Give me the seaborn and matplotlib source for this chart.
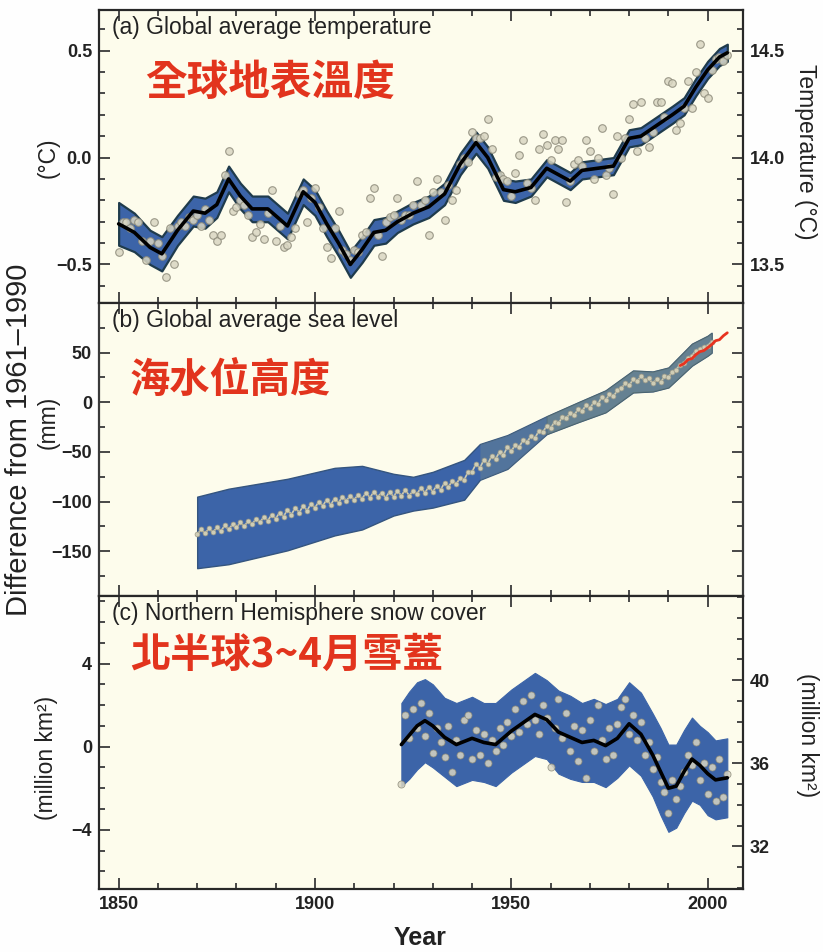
import numpy as np
import pandas as pd
import matplotlib
matplotlib.use("Agg")
import matplotlib.pyplot as plt
import seaborn as sns
from matplotlib.ticker import MultipleLocator, FuncFormatter

# ---- (a) global average temperature, anomaly vs 1961-1990 (deg C) ----
temp_years = list(range(1850, 2006))
temp_annual = [
    -0.44, -0.30, -0.30, -0.33, -0.29, -0.30, -0.39, -0.48, -0.39, -0.30,
    -0.40, -0.46, -0.56, -0.33, -0.50, -0.32, -0.30, -0.32, -0.28, -0.29,
    -0.27, -0.32, -0.24, -0.29, -0.36, -0.39, -0.36, -0.08, 0.03, -0.25,
    -0.23, -0.20, -0.22, -0.27, -0.37, -0.35, -0.31, -0.38, -0.26, -0.15,
    -0.39, -0.32, -0.42, -0.41, -0.37, -0.33, -0.17, -0.15, -0.30, -0.19,
    -0.14, -0.23, -0.33, -0.42, -0.47, -0.33, -0.25, -0.43, -0.45, -0.48,
    -0.43, -0.44, -0.36, -0.35, -0.19, -0.14, -0.36, -0.46, -0.30, -0.28,
    -0.27, -0.19, -0.29, -0.27, -0.27, -0.22, -0.11, -0.22, -0.20, -0.36,
    -0.16, -0.10, -0.16, -0.29, -0.13, -0.20, -0.15, -0.03, 0.00, -0.02,
    0.12, 0.09, 0.09, 0.10, 0.18, 0.04, -0.09, -0.08, -0.10, -0.11,
    -0.18, -0.07, 0.01, 0.08, -0.12, -0.14, -0.20, 0.04, 0.11, 0.06,
    -0.01, 0.08, 0.04, 0.08, -0.21, -0.11, -0.03, -0.01, -0.04, 0.08,
    0.03, -0.10, 0.00, 0.14, -0.08, -0.05, -0.17, 0.10, 0.00, 0.09,
    0.18, 0.25, 0.03, 0.26, 0.09, 0.05, 0.12, 0.26, 0.26, 0.19,
    0.36, 0.35, 0.13, 0.16, 0.23, 0.36, 0.23, 0.40, 0.53, 0.30,
    0.28, 0.41, 0.46, 0.47, 0.45, 0.48,
]
temp_smooth_years = [1850, 1854, 1858, 1861, 1865, 1869, 1872, 1875, 1878, 1881,
                     1884, 1888, 1893, 1897, 1900, 1903, 1906, 1909, 1912, 1915,
                     1918, 1921, 1925, 1929, 1933, 1937, 1941, 1944, 1948, 1951,
                     1955, 1959, 1962, 1965, 1968, 1972, 1976, 1980, 1983, 1987,
                     1991, 1994, 1997, 2000, 2003, 2005]
temp_smooth = [-0.31, -0.35, -0.42, -0.45, -0.34, -0.25, -0.26, -0.22, -0.10, -0.18,
               -0.24, -0.24, -0.32, -0.16, -0.21, -0.31, -0.40, -0.50, -0.43, -0.35,
               -0.34, -0.30, -0.26, -0.23, -0.17, -0.03, 0.07, 0.00, -0.15, -0.16,
               -0.14, -0.05, -0.08, -0.11, -0.06, -0.05, -0.04, 0.09, 0.10, 0.15,
               0.20, 0.24, 0.33, 0.41, 0.47, 0.49]
temp_halfwidth = [0.10, 0.09, 0.08, 0.08, 0.07, 0.07, 0.07, 0.06, 0.06, 0.06,
                  0.06, 0.06, 0.06, 0.06, 0.06, 0.06, 0.06, 0.06, 0.06, 0.06,
                  0.06, 0.05, 0.05, 0.05, 0.05, 0.05, 0.05, 0.05, 0.05, 0.05,
                  0.04, 0.04, 0.04, 0.04, 0.04, 0.04, 0.04, 0.04, 0.04, 0.04,
                  0.04, 0.04, 0.04, 0.04, 0.04, 0.04]

# ---- (b) global average sea level (mm) ----
sea_years = list(range(1870, 2002))
sea_annual = [
    -133, -128, -132, -127, -131, -126, -130, -124, -128, -123,
    -126, -121, -125, -119, -123, -117, -121, -115, -119, -113,
    -117, -111, -115, -108, -113, -106, -111, -104, -109, -102,
    -106, -100, -104, -98, -103, -97, -101, -95, -99, -94,
    -98, -93, -97, -91, -96, -90, -95, -91, -96, -90,
    -95, -89, -94, -88, -94, -89, -92, -86, -91, -85,
    -90, -84, -88, -81, -85, -79, -82, -76, -78, -70,
    -70, -62, -66, -58, -62, -54, -57, -50, -53, -45,
    -49, -43, -45, -38, -40, -34, -36, -29, -30, -24,
    -26, -20, -21, -15, -16, -11, -13, -7, -9, -3,
    -6, 0, -2, 5, 2, 8, 6, 12, 14, 19,
    17, 23, 21, 26, 22, 24, 19, 23, 20, 26,
    25, 31, 33, 38, 40, 45, 47, 52, 54, 56,
    57, 61,
]
sea_band_years = [1870, 1878, 1893, 1905, 1912, 1920, 1925, 1930, 1938, 1942,
                  1949, 1959, 1967, 1974, 1981, 1986, 1990, 1996, 2000, 2001]
sea_band_mid = [-131, -125, -113, -100, -96, -93, -92, -88, -78, -60,
                -50, -23, -10, 1, 21, 21, 25, 48, 57, 60]
sea_halfwidth = [36, 38, 36, 34, 32, 21, 17, 18, 20, 18,
                 17, 9, 10, 11, 11, 10, 10, 11, 10, 10]
sat_years = list(range(1993, 2006))
sat_level = [37, 39, 43, 44, 48, 51, 52, 55, 58, 62, 63, 67, 70]

# ---- (c) Northern Hemisphere March-April snow cover (million km2) ----
snow_years = list(range(1922, 2006))
snow_annual = [
    -1.8, 1.5, 0.4, 1.8, 0.9, 2.1, 0.5, 1.6, -0.3, 0.9,
    0.2, -0.5, 1.0, -1.2, 0.3, -0.4, 1.3, 1.5, -0.6, 0.8,
    -0.4, 0.6, -0.8, 0.3, -0.2, 0.9, 0.1, 1.2, 0.5, 1.8,
    0.7, 2.2, 1.1, 2.5, 1.3, 0.6, 2.0, 1.4, -1.0, 0.9,
    2.3, 0.4, 1.6, -0.2, 1.0, -0.7, 0.8, -1.5, 1.3, -0.2,
    2.0, 0.3, -0.6, 0.9, -0.4, 1.1, 1.9, 2.3, 0.6, 1.5,
    0.3, 1.2, -0.4, 0.2, -1.1, -0.5, -1.7, -2.2, -3.2, -1.6,
    -2.5, -1.9, -1.2, -0.4, -0.9, 0.2, -1.6, -0.8, -2.3, -1.0,
    -2.6, -0.6, -2.4, -1.3,
]
snow_smooth_years = [1922, 1924, 1926, 1928, 1930, 1933, 1936, 1940, 1943, 1946,
                     1950, 1953, 1956, 1959, 1962, 1965, 1968, 1971, 1974, 1977,
                     1980, 1983, 1986, 1988, 1990, 1992, 1994, 1996, 1998, 2000,
                     2002, 2005]
snow_smooth = [0.1, 0.55, 1.0, 1.25, 1.0, 0.45, 0.1, 0.4, 0.2, 0.1,
               0.75, 1.15, 1.55, 1.3, 0.7, 0.45, 0.2, 0.3, 0.05, 0.4,
               1.1, 0.6, -0.4, -1.2, -2.0, -1.9, -1.2, -0.6, -0.9, -1.3,
               -1.6, -1.5]
snow_halfwidth = [2.0, 2.1, 2.1, 2.0, 2.0, 1.9, 2.0, 2.0, 1.9, 2.0,
                  2.0, 2.0, 2.0, 1.9, 2.0, 2.0, 1.9, 2.0, 2.0, 1.9,
                  2.0, 2.0, 2.0, 2.1, 2.1, 2.0, 2.0, 2.0, 1.9, 2.0,
                  1.9, 1.9]

BLUE = "#3c64a8"
CREAM = "#fdfcec"
DOT_FACE = "#d9d6c2"
DOT_EDGE = "#8c8a7a"
RED = "#e2341d"
INK = "#222222"
SPINE = "#3a3a3a"
CJK = ["Noto Sans CJK TC", "DejaVu Sans"]

sns.set_theme(style="ticks")
plt.rcParams["font.family"] = ["Liberation Sans", "DejaVu Sans"]
plt.rcParams["text.color"] = INK
plt.rcParams["axes.labelcolor"] = INK

fig, axes = plt.subplots(3, 1, figsize=(8.23, 9.52), dpi=100, sharex=True)
fig.patch.set_facecolor("#fefefe")
fig.subplots_adjust(left=0.1203, right=0.9028, top=0.9895, bottom=0.0662, hspace=0)


def style_ticks(ax, **kw):
    ax.tick_params(which="both", direction="in", colors=SPINE, labelcolor=INK,
                   labelsize=13, width=1.3, pad=5, **kw)
    ax.tick_params(which="major", length=8)
    ax.tick_params(which="minor", length=4)
    for lab in ax.get_xticklabels() + ax.get_yticklabels():
        lab.set_fontweight("bold")


def style_axis(ax, right=True):
    ax.set_facecolor(CREAM)
    for sp in ax.spines.values():
        sp.set_color(SPINE)
        sp.set_linewidth(1.6)
    ax.set_xlim(1845, 2009)
    ax.xaxis.set_major_locator(MultipleLocator(50))
    ax.xaxis.set_minor_locator(MultipleLocator(10))
    ax.tick_params(which="both", top=True, right=right)


def px(x, y):
    return x / 823, 1 - y / 952


minus = lambda fmt: FuncFormatter(lambda v, p: fmt.format(v).replace("-", "\u2212"))

# (a) temperature
ax = axes[0]
style_axis(ax, right=False)
lo = np.array(temp_smooth) - np.array(temp_halfwidth)
hi = np.array(temp_smooth) + np.array(temp_halfwidth)
ax.fill_between(temp_smooth_years, lo, hi, facecolor=BLUE, edgecolor="#1f3b4c",
                linewidth=1.6, zorder=2)
sns.scatterplot(x=temp_years, y=temp_annual, ax=ax, s=30, color=DOT_FACE,
                edgecolor=DOT_EDGE, linewidth=0.8, alpha=0.85, zorder=3)
sns.lineplot(x=temp_smooth_years, y=temp_smooth, ax=ax, color="black", lw=2.6,
             sort=False, zorder=4)
ax.set_ylim(-0.68, 0.69)
ax.yaxis.set_major_locator(MultipleLocator(0.5))
ax.yaxis.set_minor_locator(MultipleLocator(0.1))
ax.yaxis.set_major_formatter(minus("{:.1f}"))
ax2 = ax.twinx()
ax2.set_ylim(14.0 - 0.68, 14.0 + 0.69)
ax2.yaxis.set_major_locator(MultipleLocator(0.5))
ax2.yaxis.set_minor_locator(MultipleLocator(0.1))
ax2.yaxis.set_major_formatter(FuncFormatter(lambda v, p: f"{v:.1f}"))
ax.text(0.02, 0.978, "(a) Global average temperature", transform=ax.transAxes,
        ha="left", va="top", fontsize=16.5, zorder=6)
ax.text(0.071, 0.752, "全球地表溫度", transform=ax.transAxes, ha="left", va="center",
        fontsize=30, color=RED, fontweight="bold", family=CJK, zorder=6)

# (b) sea level
ax = axes[1]
style_axis(ax)
lo = np.array(sea_band_mid) - np.array(sea_halfwidth)
hi = np.array(sea_band_mid) + np.array(sea_halfwidth)
ax.fill_between(sea_band_years, lo, hi, facecolor=BLUE, edgecolor="#35557f",
                linewidth=1.0, zorder=2)
# the recent, denser part of the band looks grey-green in the original
ax.fill_between(sea_band_years[9:], lo[9:], hi[9:], facecolor="#7d9288",
                linewidth=0, alpha=0.35, zorder=2.4)
ax.fill_between(sea_band_years[11:], lo[11:], hi[11:], facecolor="#7d9288",
                edgecolor="#4f6660", linewidth=0.8, alpha=0.45, zorder=2.5)
sns.lineplot(x=sea_years, y=sea_annual, ax=ax, color="#cfcdb6", lw=1.2, sort=False,
             marker="o", markersize=3.5, markeredgecolor="#9c9a88",
             markeredgewidth=0.5, zorder=3)
sns.lineplot(x=sat_years, y=sat_level, ax=ax, color="#e8331f", lw=2.0, sort=False,
             zorder=4)
ax.set_ylim(-195, 100)
ax.yaxis.set_major_locator(MultipleLocator(50))
ax.yaxis.set_minor_locator(MultipleLocator(25))
ax.yaxis.set_major_formatter(FuncFormatter(
    lambda v, p: f"{v:.0f}".replace("-", "\u2212") if v < 60 else ""))
ax.text(0.02, 0.978, "(b) Global average sea level", transform=ax.transAxes,
        ha="left", va="top", fontsize=16.5, zorder=6)
ax.text(0.048, 0.736, "海水位高度", transform=ax.transAxes, ha="left", va="center",
        fontsize=29, color=RED, fontweight="bold", family=CJK, zorder=6)

# (c) snow cover
ax = axes[2]
style_axis(ax, right=False)
lo = np.array(snow_smooth) - np.array(snow_halfwidth)
hi = np.array(snow_smooth) + np.array(snow_halfwidth)
ax.fill_between(snow_smooth_years, lo, hi, facecolor=BLUE, edgecolor=BLUE,
                linewidth=0.8, zorder=2)
sns.scatterplot(x=snow_years, y=snow_annual, ax=ax, s=26, color=DOT_FACE,
                edgecolor=DOT_EDGE, linewidth=0.6, alpha=0.85, zorder=3)
sns.lineplot(x=snow_smooth_years, y=snow_smooth, ax=ax, color="black", lw=2.6,
             sort=False, zorder=4)
ax.set_ylim(-6.85, 7.25)
ax.yaxis.set_major_locator(MultipleLocator(4))
ax.yaxis.set_minor_locator(MultipleLocator(1))
ax.yaxis.set_major_formatter(minus("{:.0f}"))
ax3 = ax.twinx()
ax3.set_ylim(-6.85 + 36.8, 7.25 + 36.8)
ax3.set_yticks([32, 36, 40])
ax3.yaxis.set_minor_locator(MultipleLocator(1))
ax.text(0.02, 0.978, "(c) Northern Hemisphere snow cover", transform=ax.transAxes,
        ha="left", va="top", fontsize=16.5, zorder=6)
ax.text(0.048, 0.796, "北半球3~4月雪蓋", transform=ax.transAxes, ha="left", va="center",
        fontsize=29, color=RED, fontweight="bold", family=CJK, zorder=6)
ax.set_xticks([1850, 1900, 1950, 2000])

for a in list(axes) + [ax2, ax3]:
    a.set_ylabel("")
    a.set_xlabel("")
    style_ticks(a)

# axis titles
fig.text(*px(19, 440), "Difference from 1961\u20131990", rotation=90, ha="center",
         va="center", fontsize=21)
fig.text(*px(48, 158), "(°C)", rotation=90, ha="center", va="center", fontsize=16.5)
fig.text(*px(48, 422), "(mm)", rotation=90, ha="center", va="center", fontsize=16.5)
fig.text(*px(47, 758), "(million km²)", rotation=90, ha="center", va="center",
         fontsize=16.5)
fig.text(*px(806, 152), "Temperature (°C)", rotation=-90, ha="center", va="center",
         fontsize=16.5)
fig.text(*px(808, 735), "(million km²)", rotation=-90, ha="center", va="center",
         fontsize=16.5)
fig.text(*px(420, 938), "Year", ha="center", va="center", fontsize=18,
         fontweight="bold")

fig.savefig("out.png", dpi=100, facecolor=fig.get_facecolor())
